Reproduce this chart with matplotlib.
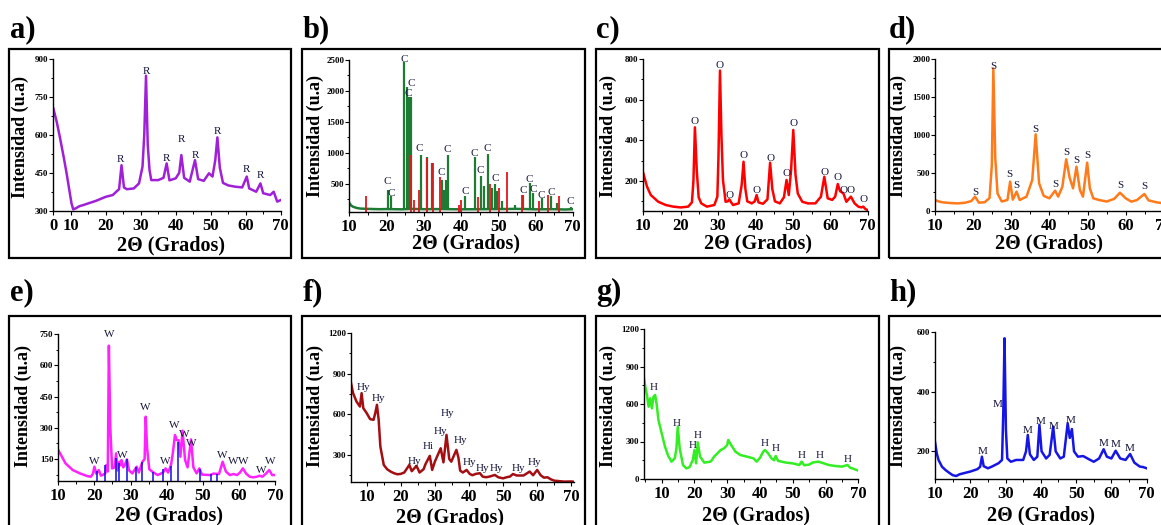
import matplotlib
matplotlib.use("Agg")
import matplotlib.pyplot as plt
from matplotlib.patches import Rectangle
from matplotlib.ticker import MultipleLocator

# ---------------- diffraction data (2-theta in degrees, intensity in a.u.) ----------------
# a) rutile-labelled pattern
a_x = [5, 6, 6.85, 8, 8.8, 9.6, 10.2, 10.7, 11.5, 12.5, 13.5, 15, 17, 20, 22, 23, 23.8, 24.5, 25.2, 26,
       28, 29.5, 30.5, 31.0, 31.5, 32.0, 32.5, 33, 35, 36.5, 37.4, 38.2, 40, 41.0, 41.6, 42.4, 44, 45.5, 46.4, 48,
       49.5, 50.5, 51.3, 51.9, 52.6, 53.5, 55, 57, 59, 60.3, 61, 63, 64.2, 65, 67, 68, 69, 70]
a_y = [705, 650, 593, 510, 448, 380, 329, 305, 310, 318, 322, 329, 338, 355, 362, 375, 385, 480, 392, 385,
       388, 408, 474, 600, 834, 560, 461, 421, 421, 430, 487, 420, 428, 450, 520, 430, 415, 500, 425, 418,
       448, 435, 500, 590, 470, 410, 400, 395, 392, 435, 388, 375, 408, 369, 362, 375, 336, 342]
a_lab_x = [24.3, 31.5, 37.4, 41.7, 45.5, 51.9, 60.3, 64.3]
a_lab_y = [504, 850, 507, 580, 518, 615, 464, 441]

# b) sample pattern: background, sharp reflections and reference lines
b_base_x = [10, 10.5, 11, 12, 13, 15, 18, 20, 24, 27, 30, 35, 40, 45, 50, 55, 60, 65, 68, 70]
b_base_y = [190, 150, 130, 110, 100, 95, 90, 92, 88, 95, 90, 92, 88, 90, 92, 95, 88, 90, 85, 90]
b_pk_x = [20.3, 21.1, 24.8, 25.4, 26.1, 26.7, 29.2, 31.0, 32.3, 34.8, 35.5, 36.0, 36.4, 41.1, 43.8,
          45.4, 46.1, 47.2, 48.3, 49.1, 49.7, 50.9, 54.5, 56.7, 58.5, 59.4, 61.7, 64.3, 65.7, 69.5]
b_pk_y = [403, 296, 2473, 2060, 1900, 1900, 968, 940, 833, 565, 403, 565, 968, 296, 940,
          630, 457, 984, 430, 500, 376, 215, 161, 323, 511, 350, 269, 296, 188, 120]
b_ref_x = [14.4, 26.6, 27.4, 28.7, 31.0, 32.4, 34.3, 39.5, 40.1, 44.7, 47.7, 50.1, 52.3, 56.3, 60.9, 63.3, 66.4]
b_ref_y = [296, 968, 242, 403, 914, 833, 618, 161, 242, 285, 500, 430, 683, 312, 226, 312, 296]
b_lab_x = [24.77, 26.74, 25.85, 20.3, 21.37, 28.8, 34.8, 36.3, 41.07, 43.5, 45.3, 47.06, 49.1, 56.7,
           58.25, 59.4, 61.65, 64.3, 69.45]
b_lab_y = [2516, 2124, 1962, 538, 349, 1075, 683, 1059, 376, 984, 710, 1070, 591, 392, 575, 403, 306, 360, 215]

# c)
c_x = [10, 11, 12, 14, 16, 18, 20, 22, 23, 23.4, 23.8, 24.3, 24.8, 25.5, 27, 29, 29.8, 30.1, 30.5, 30.9,
       31.3, 32, 32.6, 33, 33.5, 34, 35.5, 36.3, 36.8, 37.3, 37.8, 39, 39.8, 40.3, 40.8, 42, 43.2, 43.9, 44.5, 45.2,
       46.5, 47.6, 48.3, 48.9, 49.5, 50.1, 50.7, 51.3, 52.5, 54, 56, 57.5, 58.4, 59.3, 60.5, 61.3, 62, 62.6, 63.5,
       64.3, 65.5, 66.5, 67.5, 68.3, 68.8, 69.4, 70]
c_y = [238, 172, 131, 98, 82, 74, 70, 74, 95, 200, 464, 250, 120, 90, 74, 82, 123, 320, 743, 420,
       205, 98, 100, 110, 95, 82, 90, 180, 295, 160, 100, 90, 100, 131, 95, 88, 110, 290, 160, 100,
       90, 120, 205, 131, 250, 451, 230, 139, 98, 90, 90, 123, 221, 115, 107, 123, 185, 150, 139,
       98, 123, 90, 74, 70, 74, 62, 57]
c_lab_x = [23.8, 30.5, 33.0, 36.8, 40.3, 43.9, 48.3, 50.1, 58.4, 62.0, 63.5, 65.5, 68.8]
c_lab_y = [495, 770, 131, 325, 151, 311, 238, 484, 243, 218, 151, 151, 107]

# d)
d_x = [10, 11, 12, 14, 16, 18, 19.5, 20.5, 21.5, 23, 24.3, 24.9, 25.3, 25.8, 26.4, 27.5, 29, 29.7, 30.4, 31.4,
       32.2, 34, 35.5, 36.4, 37.3, 38.5, 40, 41.5, 42.3, 43.4, 44.4, 45.3, 46.2, 47.1, 48.0, 48.8, 49.9, 50.6,
       51.5, 53, 55, 57, 58.5, 60, 61.5, 63, 64.9, 66, 68, 70]
d_y = [145, 125, 114, 105, 100, 110, 130, 189, 110, 115, 170, 600, 1877, 700, 230, 125, 145, 386, 150, 254,
       145, 189, 408, 1009, 364, 200, 167, 268, 189, 320, 680, 440, 298, 583, 276, 189, 636, 300,
       167, 145, 125, 160, 241, 167, 123, 145, 224, 140, 115, 100]
d_lab_x = [20.5, 25.3, 29.6, 31.4, 36.4, 41.5, 44.4, 47.1, 49.9, 58.5, 64.9]
d_lab_y = [246, 1900, 474, 329, 1075, 355, 768, 662, 724, 333, 320]

# e) sample pattern and reference lines
e_x = [10, 11, 12, 14, 16, 18, 19, 19.6, 20.0, 20.5, 21.2, 21.8, 23, 23.3, 23.7, 24.0, 24.4, 24.9, 25.6, 26.0,
       26.4, 26.9, 27.2, 27.5, 28.0, 28.4, 29.0, 29.6, 30.5, 31.7, 32.3, 33.3, 33.9, 34.2, 34.6, 35.2, 36.3,
       37.5, 39.0, 39.7, 40.4, 41.2, 41.7, 42.3, 42.8, 43.3, 43.8, 44.4, 45.1, 45.8, 46.75, 47.4, 48.3, 49.05,
       49.8, 52, 53, 54.5, 55.5, 56.4, 57.5, 58.5, 59.5, 60.3, 61.1, 62, 63, 64, 65, 65.7, 66.5, 67.5, 68.4,
       69.2, 70]
e_y = [193, 161, 129, 97, 81, 68, 65, 80, 113, 80, 97, 70, 80, 121, 90, 694, 300, 105, 110, 177,
       95, 137, 120, 145, 110, 120, 148, 95, 81, 113, 85, 137, 150, 353, 200, 100, 86,
       73, 85, 105, 85, 121, 177, 265, 241, 240, 161, 286, 145, 110, 244, 110, 81, 105,
       75, 73, 80, 78, 137, 90, 73, 78, 73, 85, 105, 80, 65, 62, 65, 70, 65, 80, 97,
       73, 73]
e_ref_x = [20.6, 23.0, 26.0, 26.9, 29.0, 31.5, 33.3, 36.3, 39.1, 41.2, 43.2, 49.2, 52.2, 54.0]
e_ref_y = [94, 121, 153, 129, 148, 113, 137, 89, 100, 116, 233, 100, 78, 78]
e_lab_x = [19.97, 24.03, 27.7, 34.0, 39.7, 42.0, 44.8, 46.9, 55.5, 58.5, 61.2, 66.1, 68.8]
e_lab_y = [140, 748, 166, 396, 137, 313, 270, 225, 166, 140, 137, 97, 137]

# f)
f_x = [5.3, 6, 7, 8, 8.5, 9, 10, 11, 12, 12.5, 13.0, 13.5, 14, 15, 16, 17, 18, 19, 20, 21, 22.5, 23.2, 24.6,
       25.5, 26.7, 27.2, 28.5, 29.2, 30, 31.7, 32.5, 33.4, 34.2, 34.8, 36.3, 36.9, 37.4, 38.2, 39.3, 40.2, 41,
       42, 43.2, 44, 45, 46, 47.6, 48.6, 50, 51, 52, 52.9, 54, 56, 57.8, 58.8, 60, 61, 62, 63, 64, 65, 67,
       68, 70, 70.8]
f_y = [842, 756, 694, 657, 756, 645, 608, 564, 559, 608, 670, 560, 362, 226, 194, 177, 165, 157, 160, 170,
       226, 180, 219, 170, 195, 230, 293, 189, 251, 349, 245, 448, 270, 250, 337, 280, 184, 170, 189, 160,
       150, 160, 165, 140, 135, 140, 152, 135, 127, 135, 140, 159, 148, 148, 177, 150, 189, 150, 132, 135,
       120, 110, 105, 103, 104, 102]
f_lab_x = [9.0, 13.6, 23.9, 28.0, 31.7, 33.7, 37.5, 40.2, 44.1, 48.2, 54.4, 59.3]
f_lab_y = [800, 714, 251, 362, 473, 608, 406, 243, 201, 196, 201, 243]
f_lab_txt = ['Hy', 'Hy', 'Hy', 'Hi', 'Hy', 'Hy', 'Hy', 'Hy', 'Hy', 'Hy', 'Hy', 'Hy']

# g)
g_x = [4.6, 5, 5.5, 6, 6.5, 7, 7.5, 8, 8.5, 9, 10, 11, 12, 13, 14, 14.5, 14.9, 15.5, 16.5, 17.5, 18.5, 19.5,
       20.0, 20.5, 21.0, 21.7, 23, 24, 25, 26, 27, 28, 29, 30, 30.3, 31.5, 32.5, 34, 36, 38, 39, 40, 41, 41.5,
       42.5, 43.5, 44.3, 44.8, 45.5, 48, 50, 52, 52.7, 53.5, 55, 56, 57.8, 59.5, 61, 63, 65, 66.7, 67.5, 69, 70]
g_y = [805, 739, 672, 579, 645, 565, 659, 672, 592, 472, 365, 259, 184, 139, 165, 245, 419, 245, 112, 85,
       95, 152, 232, 125, 293, 180, 131, 135, 140, 179, 205, 232, 245, 272, 312, 259, 219, 192, 179, 165,
       139, 170, 219, 232, 205, 165, 150, 184, 145, 131, 125, 112, 139, 110, 115, 131, 139, 125, 112, 104,
       99, 112, 91, 77, 67]
g_lab_x = [7.46, 14.6, 19.4, 21.0, 41.5, 44.8, 52.7, 58.1, 66.8]
g_lab_y = [733, 445, 267, 352, 280, 245, 192, 192, 152]

# h)
h_x = [10, 10.5, 11, 12, 13, 14, 15, 16, 17, 18, 20, 21, 22, 22.8, 23.3, 23.8, 25, 26, 27, 28, 29, 29.35,
       29.7, 30.1, 30.5, 31.5, 33, 35, 35.8, 36.3, 36.9, 38, 39, 39.6, 40.2, 41.5, 42.5, 43.5, 44.2, 45.5,
       46.5, 47.6, 48.2, 48.8, 49.4, 50.5, 52, 54, 55, 56.5, 57.8, 58.7, 60, 61.2, 62.5, 64, 65.3, 66.5, 68,
       69, 70]
h_y = [232, 193, 171, 148, 137, 128, 120, 117, 123, 126, 132, 136, 140, 148, 182, 150, 143, 148, 154, 160,
       171, 330, 580, 272, 176, 165, 171, 171, 200, 255, 190, 171, 182, 289, 200, 176, 188, 283, 200, 176,
       182, 294, 245, 275, 200, 182, 184, 171, 165, 176, 207, 182, 176, 202, 176, 171, 191, 162, 149,
       147, 143]
h_lab_x = [23.4, 27.8, 36.3, 39.8, 43.7, 48.3, 57.8, 61.2, 65.3]
h_lab_y = [199, 358, 270, 300, 283, 305, 227, 224, 210]

# ---------------- figure ----------------
W, H = 1161, 525
fig = plt.figure(figsize=(W / 100, H / 100), dpi=100)
fig.patch.set_facecolor('white')
SERIF = ['Liberation Serif', 'DejaVu Serif']
XT = [10, 20, 30, 40, 50, 60, 70]


def fx(px):
    return px / W


def fy(py):
    return 1 - py / H


def frame(l, t, r, b):
    fig.add_artist(Rectangle((fx(l), fy(b)), (r - l) / W, (b - t) / H, transform=fig.transFigure,
                             fill=False, lw=1.6, ec='black'))


def make_axes(box, xlim, ylim, xticks, xlabels, yticks, ystep):
    l, t, r, b = box
    ax = fig.add_axes([fx(l), fy(b), (r - l) / W, (b - t) / H])
    ax.patch.set_alpha(0)
    ax.set_xlim(*xlim)
    ax.set_ylim(*ylim)
    for s in ('top', 'right'):
        ax.spines[s].set_visible(False)
    for s in ('left', 'bottom'):
        ax.spines[s].set_linewidth(1.0)
    ax.set_xticks(xticks)
    ax.set_xticklabels(xlabels)
    ax.set_yticks(yticks)
    ax.set_yticklabels([str(v) for v in yticks])
    ax.xaxis.set_minor_locator(MultipleLocator(5))
    ax.yaxis.set_minor_locator(MultipleLocator(ystep))
    ax.tick_params(which='major', length=3, width=0.8, direction='out')
    ax.tick_params(which='minor', length=1.8, width=0.7, direction='out')
    ax.tick_params(axis='x', labelsize=12, pad=2)
    ax.tick_params(axis='y', labelsize=6.5, pad=0.5)
    for lbl in ax.get_xticklabels() + ax.get_yticklabels():
        lbl.set_fontfamily(SERIF)
        lbl.set_fontweight('bold')
    return ax


def titles(letter, lx, ly, ylab_xy, xlab_xy):
    fig.text(fx(lx), fy(ly), letter, fontsize=22, fontweight='bold', family=SERIF, va='baseline')
    fig.text(fx(ylab_xy[0]), fy(ylab_xy[1]), 'Intensidad (u.a)', rotation=90, ha='center', va='center',
             fontsize=13, fontweight='bold', family=SERIF)
    fig.text(fx(xlab_xy[0]), fy(xlab_xy[1]), '2\u0398 (Grados)', ha='center', va='center',
             fontsize=14.5, fontweight='bold', family=SERIF)


def peak_labels(ax, xs, ys, txt):
    if isinstance(txt, str):
        txt = [txt] * len(xs)
    for x, y, s in zip(xs, ys, txt):
        ax.text(x, y, s, ha='center', va='center', fontsize=8, family=SERIF, color='#15153a', clip_on=False)


LW = 1.8

# frames around each panel
for l, r in [(9, 291), (302, 585), (596, 879), (889, 1175)]:
    frame(l, 49, r, 258)
    frame(l, 316, r, 535)

# a)
ax = make_axes((53.3, 59, 280.7, 210.7), (5, 70), (300, 900), [5] + XT, ['0'] + [str(v) for v in XT],
               [300, 450, 600, 750, 900], 75)
ax.plot(a_x, a_y, color='#A020D8', lw=LW)
peak_labels(ax, a_lab_x, a_lab_y, 'R')
titles('a)', 10, 37, (20, 137), (171, 245))

# b)
ax = make_axes((349.3, 60, 572.7, 212.3), (10, 70), (40, 2500), XT, [str(v) for v in XT],
               [500, 1000, 1500, 2000, 2500], 250)
ax.plot(b_base_x, b_base_y, color='#1E7B34', lw=LW)
ax.vlines(b_pk_x, 85, b_pk_y, color='#1E7B34', lw=1.6)
ax.vlines(b_ref_x, 40, b_ref_y, color='#E8141E', lw=1.3)
peak_labels(ax, b_lab_x, b_lab_y, 'C')
titles('b)', 303, 37, (315, 136), (466, 243))

# c)
ax = make_axes((643.3, 59, 867.7, 210.7), (10, 70), (54, 800), XT, [str(v) for v in XT],
               [200, 400, 600, 800], 100)
ax.plot(c_x, c_y, color='#FF0000', lw=LW)
peak_labels(ax, c_lab_x, c_lab_y, 'O')
titles('c)', 596, 37, (608, 136), (758, 243))

# d)
ax = make_axes((935, 59, 1163.8, 211), (10, 70), (0, 2000), XT, [str(v) for v in XT],
               [0, 500, 1000, 1500, 2000], 250)
ax.plot(d_x, d_y, color='#FF7A1A', lw=LW)
peak_labels(ax, d_lab_x, d_lab_y, 'S')
titles('d)', 889, 37, (898, 136), (1049, 243))

# e)
ax = make_axes((58.3, 334, 275, 481.3), (10, 70), (43, 750), XT, [str(v) for v in XT],
               [150, 300, 450, 600, 750], 75)
ax.plot(e_x, e_y, color='#FF22FF', lw=LW)
ax.vlines(e_ref_x, 43, e_ref_y, color='#1010E0', lw=1.1)
peak_labels(ax, e_lab_x, e_lab_y, 'W')
titles('e)', 10, 300, (23, 406), (169, 515))

# f)
ax = make_axes((350.7, 333, 574, 482), (5.3, 70.8), (100, 1200), XT, [str(v) for v in XT],
               [300, 600, 900, 1200], 150)
ax.plot(f_x, f_y, color='#A30E12', lw=LW)
peak_labels(ax, f_lab_x, f_lab_y, f_lab_txt)
titles('f)', 303, 300, (315, 406), (450, 517))

# g)
ax = make_axes((644, 329, 858.3, 479), (4.6, 70), (0, 1200), XT, [str(v) for v in XT],
               [0, 300, 600, 900, 1200], 150)
ax.plot(g_x, g_y, color='#33EE22', lw=LW)
peak_labels(ax, g_lab_x, g_lab_y, 'H')
titles('g)', 596, 300, (608, 406), (756, 515))

# h)
ax = make_axes((935, 332.3, 1146.7, 479.3), (10, 70), (106, 600), XT, [str(v) for v in XT],
               [200, 400, 600], 100)
ax.plot(h_x, h_y, color='#1515E6', lw=LW)
peak_labels(ax, h_lab_x, h_lab_y, 'M')
titles('h)', 889, 300, (898, 406), (1041, 515))

fig.savefig('out.png', dpi=100, facecolor='white')
